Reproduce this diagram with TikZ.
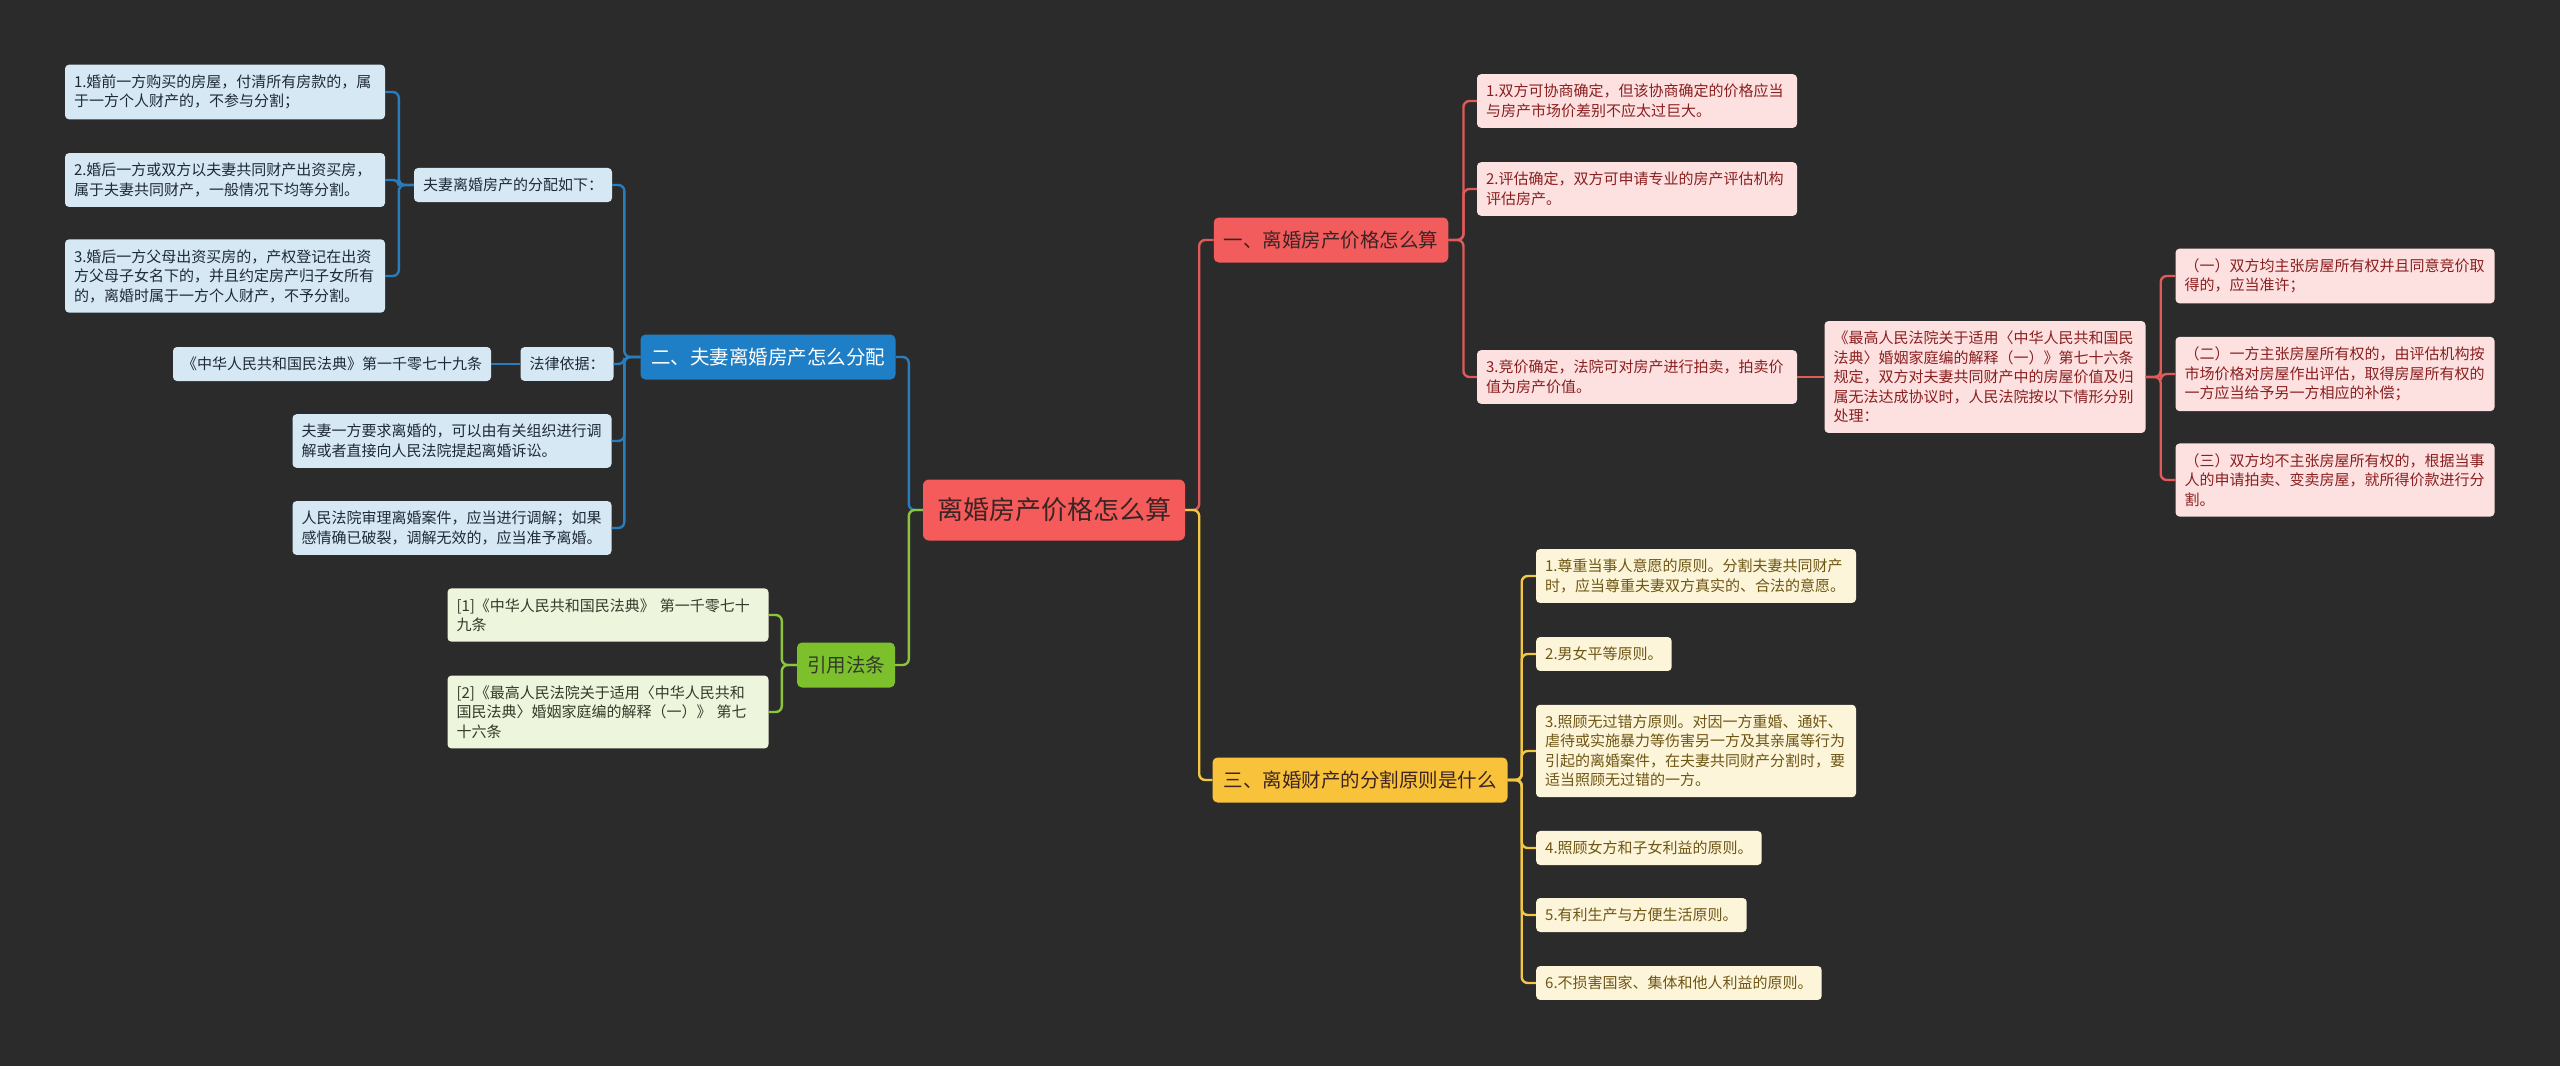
\documentclass[tikz,border=0pt]{standalone}
\usepackage{fontspec}
\setmainfont{Noto Sans CJK SC}
\usepackage{tikz}
\definecolor{bgc}{HTML}{2B2B2B}
\definecolor{rootc}{HTML}{F55B5B}
\definecolor{roott}{HTML}{3C2424}
\definecolor{redc}{HTML}{F25C5C}
\definecolor{redl}{HTML}{E05A5A}
\definecolor{redf}{HTML}{FDE1E1}
\definecolor{redt}{HTML}{8A1F1F}
\definecolor{bluec}{HTML}{1E7FC6}
\definecolor{bluel}{HTML}{2A7DBC}
\definecolor{bluef}{HTML}{D7E8F5}
\definecolor{bluet}{HTML}{1E2A36}
\definecolor{greenc}{HTML}{7CC12C}
\definecolor{greenl}{HTML}{8CC43E}
\definecolor{greenf}{HTML}{EEF5DD}
\definecolor{greent}{HTML}{333A2A}
\definecolor{yelc}{HTML}{F8C33B}
\definecolor{yell}{HTML}{F2C744}
\definecolor{yelf}{HTML}{FDF5D9}
\definecolor{yelt}{HTML}{6E5614}

\begin{document}
\begin{tikzpicture}[x=1pt,y=-1pt,
	leaf/.style={rounded corners=4pt,inner xsep=9pt,inner ysep=10pt,align=left,font=\fontsize{15}{19.5}\selectfont},
	tw/.style={text width=#1},
	bleaf/.style={leaf,fill=bluef,text=bluet},
	rleaf/.style={leaf,fill=redf,text=redt},
	gleaf/.style={leaf,fill=greenf,text=greent},
	yleaf/.style={leaf,fill=yelf,text=yelt},
	branch/.style={rounded corners=5pt,inner xsep=10pt,minimum height=45pt,font=\fontsize{19.5}{23}\selectfont},
	link/.style={line width=2.4pt,rounded corners=6pt}]
	\fill[bgc] (0,0) rectangle (2560,1066);
	\useasboundingbox (0,0) rectangle (2560,1066);

	\node[rounded corners=6pt,fill=rootc,text=roott,minimum width=262pt,minimum height=61pt,font=\fontsize{26}{30}\selectfont] (root) at (1054,510) {离婚房产价格怎么算};

	\node[branch,fill=redc,text=roott,minimum width=234pt] (red) at (1331,240) {一、离婚房产价格怎么算};
	\node[branch,fill=bluec,text=white,minimum width=255pt] (blue) at (768,357) {二、夫妻离婚房产怎么分配};
	\node[branch,fill=greenc,text=greent,minimum width=97pt] (green) at (846,665) {引用法条};
	\node[branch,fill=yelc,text=roott,minimum width=295pt] (yel) at (1360,780) {三、离婚财产的分割原则是什么};

	\begin{scope}[every node/.style={rleaf}]
		\node[tw=302pt] (r1) at (1637,101) {1.双方可协商确定，但该协商确定的价格应当\\与房产市场价差别不应太过巨大。};
		\node[tw=302pt] (r2) at (1637,189) {2.评估确定，双方可申请专业的房产评估机构\\评估房产。};
		\node[tw=302pt] (r3) at (1637,377) {3.竞价确定，法院可对房产进行拍卖，拍卖价\\值为房产价值。};
		\node[tw=303pt] (big) at (1985,377) {《最高人民法院关于适用〈中华人民共和国民\\法典〉婚姻家庭编的解释（一）》第七十六条\\规定，双方对夫妻共同财产中的房屋价值及归\\属无法达成协议时，人民法院按以下情形分别\\处理：};
		\node[tw=301pt] (s1) at (2335,276) {（一）双方均主张房屋所有权并且同意竞价取\\得的，应当准许；};
		\node[tw=301pt] (s2) at (2335,374) {（二）一方主张房屋所有权的，由评估机构按\\市场价格对房屋作出评估，取得房屋所有权的\\一方应当给予另一方相应的补偿；};
		\node[tw=301pt] (s3) at (2335,480) {（三）双方均不主张房屋所有权的，根据当事\\人的申请拍卖、变卖房屋，就所得价款进行分\\割。};
	\end{scope}

	\begin{scope}[every node/.style={bleaf}]
		\node[tw=302pt] (b1) at (225,92) {1.婚前一方购买的房屋，付清所有房款的，属\\于一方个人财产的，不参与分割；};
		\node[tw=302pt] (b2) at (225,180) {2.婚后一方或双方以夫妻共同财产出资买房，\\属于夫妻共同财产，一般情况下均等分割。};
		\node[tw=302pt] (b3) at (225,276) {3.婚后一方父母出资买房的，产权登记在出资\\方父母子女名下的，并且约定房产归子女所有\\的，离婚时属于一方个人财产，不予分割。};
		\node (bfp) at (513,185) {夫妻离婚房产的分配如下：};
		\node (blaw) at (332,364) {《中华人民共和国民法典》第一千零七十九条};
		\node (bbasis) at (567,364) {法律依据：};
		\node[tw=301pt] (bmed) at (452,441) {夫妻一方要求离婚的，可以由有关组织进行调\\解或者直接向人民法院提起离婚诉讼。};
		\node[tw=301pt] (bcourt) at (452,528) {人民法院审理离婚案件，应当进行调解；如果\\感情确已破裂，调解无效的，应当准予离婚。};
	\end{scope}

	\begin{scope}[every node/.style={gleaf}]
		\node[tw=303pt] (g1) at (608,615) {[1]《中华人民共和国民法典》 第一千零七十\\九条};
		\node[tw=303pt] (g2) at (608,712) {[2]《最高人民法院关于适用〈中华人民共和\\国民法典〉婚姻家庭编的解释（一）》 第七\\十六条};
	\end{scope}

	\begin{scope}[every node/.style={yleaf}]
		\node[tw=302pt] (y1) at (1696,576) {1.尊重当事人意愿的原则。分割夫妻共同财产\\时，应当尊重夫妻双方真实的、合法的意愿。};
		\node[anchor=west] (y2) at (1536,654) {2.男女平等原则。};
		\node[tw=302pt] (y3) at (1696,751) {3.照顾无过错方原则。对因一方重婚、通奸、\\虐待或实施暴力等伤害另一方及其亲属等行为\\引起的离婚案件，在夫妻共同财产分割时，要\\适当照顾无过错的一方。};
		\node[anchor=west] (y4) at (1536,848) {4.照顾女方和子女利益的原则。};
		\node[anchor=west] (y5) at (1536,915) {5.有利生产与方便生活原则。};
		\node[anchor=west] (y6) at (1536,983) {6.不损害国家、集体和他人利益的原则。};
	\end{scope}

	\draw[link,redl] (root.east) -- ++(14,0) |- (red.west);
	\draw[link,yell] (root.east) -- ++(14,0) |- (yel.west);
	\draw[link,bluel] (root.west) -- ++(-14,0) |- (blue.east);
	\draw[link,greenl] (root.west) -- ++(-14,0) |- (green.east);

	\foreach \c in {r1,r2,r3} \draw[link,redl] (red.east) -- ++(15,0) |- (\c.west);
	\draw[link,redl] (r3.east) -- (big.west);
	\foreach \c in {s1,s2,s3} \draw[link,redl] (big.east) -- ++(15,0) |- (\c.west);

	\foreach \c in {bfp,bbasis,bmed,bcourt} \draw[link,bluel] (blue.west) -- ++(-16,0) |- (\c.east);
	\foreach \c in {b1,b2,b3} \draw[link,bluel] (bfp.west) -- ++(-15,0) |- (\c.east);
	\draw[link,bluel] (bbasis.west) -- (blaw.east);

	\foreach \c in {g1,g2} \draw[link,greenl] (green.west) -- ++(-15,0) |- (\c.east);

	\foreach \c in {y1,y2,y3,y4,y5,y6} \draw[link,yell] (yel.east) -- ++(14,0) |- (\c.west);
\end{tikzpicture}
\end{document}
